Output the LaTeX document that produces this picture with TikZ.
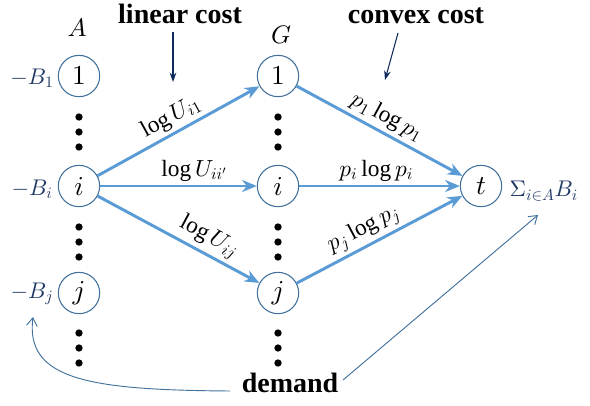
\documentclass[tikz,border=0pt]{standalone}
\usepackage{fontspec}
\setmainfont{Liberation Serif}
\usetikzlibrary{arrows.meta,shapes.geometric}
% let the Computer Modern math fonts scale to any size
\DeclareFontShape{OML}{cmm}{m}{it}{<->cmmi10}{}
\DeclareFontShape{OT1}{cmr}{m}{n}{<->cmr10}{}
\DeclareFontShape{OMS}{cmsy}{m}{n}{<->cmsy10}{}
\definecolor{edgeblue}{HTML}{5B9BD5}
\definecolor{ringblue}{HTML}{41719C}
\definecolor{navy}{HTML}{1F3864}
\definecolor{darknavy}{HTML}{0F2A5C}
\begin{document}
\begin{tikzpicture}[x=0.75pt,y=-0.75pt,
  vertex/.style={ellipse,draw=ringblue,line width=0.8pt,minimum width=31pt,minimum height=31pt,inner sep=0pt,font=\fontsize{20.5}{24}\selectfont},
  flow/.style={draw=edgeblue,line width=2.2pt,-{Stealth[length=11pt,width=9pt,inset=3.5pt]}},
  elabel/.style={font=\fontsize{17.5}{21}\selectfont,sloped,above,inner sep=2.5pt},
  demandlab/.style={text=navy,font=\fontsize{17}{20}\selectfont},
  colhead/.style={font=\fontsize{19}{22}\selectfont},
  note/.style={font=\fontsize{21}{24}\selectfont\bfseries},
  pointer/.style={draw=darknavy,line width=0.8pt,-{Stealth[length=7pt,width=5pt]}},
  thinarrow/.style={draw=ringblue,line width=0.7pt,-{Straight Barb[length=6pt,width=8pt]}},
  dot/.style={circle,fill=black,inner sep=0pt,minimum size=5.5pt}]
\useasboundingbox (0,0) rectangle (590,405);

% column headings and annotations
\node[colhead] (hA) at (77,28) {$A$};
\node[colhead] (hG) at (281,35) {$G$};
\node[note] (lin) at (180,14) {linear cost};
\node[note] (cvx) at (416,16) {convex cost};
\node[note] (dem) at (290,383) {demand};

% left column
\node[vertex] (a1) at (79,76) {$1$};
\node[vertex] (ai) at (79,186) {$i$};
\node[vertex] (aj) at (79,293) {$j$};
% middle column
\node[vertex] (g1) at (278,76) {$1$};
\node[vertex] (gi) at (278,186) {$i$};
\node[vertex] (gj) at (278,293) {$j$};
% sink
\node[vertex] (t) at (481,186) {$t$};

% supplies and demand
\node[demandlab] (b1) at (32,78) {$-B_1$};
\node[demandlab] (bi) at (32,189) {$-B_i$};
\node[demandlab] (bj) at (32,294) {$-B_j$};
\node[demandlab,anchor=west] (bs) at (505,191) {$\Sigma_{i\in A} B_i$};

% vertical ellipses
\foreach \x/\c in {79/a,278/g}{
  \foreach \y [count=\k] in {117,132,147}{\node[dot] (\c u\k) at (\x,\y) {};}
  \foreach \y [count=\k] in {227,242,257}{\node[dot] (\c m\k) at (\x,\y) {};}
  \foreach \y [count=\k] in {333,348,363}{\node[dot] (\c d\k) at (\x,\y) {};}
}

% flow edges
\draw[flow] (ai) -- node[elabel,pos=0.5] {$\log U_{i1}$} (g1);
\draw[flow] (ai) -- node[elabel,pos=0.6] {$\log U_{ii'}$} (gi);
\draw[flow] (ai) -- node[elabel,pos=0.64] {$\log U_{ij}$} (gj);
\draw[flow] (g1) -- node[elabel,pos=0.5] {$p_1\log p_1$} (t);
\draw[flow] (gi) -- node[elabel,pos=0.48] {$p_i\log p_i$} (t);
\draw[flow] (gj) -- node[elabel,pos=0.45] {$p_j\log p_j$} (t);

% annotation pointers
\coordinate (linend) at (173,82);
\coordinate (cvxend) at (385,80);
\draw[pointer] (173,32) -- (linend);
\draw[pointer] (398,33) -- (cvxend);
\coordinate (demL) at (230,391);
\coordinate (demR) at (343,380);
\coordinate (bjfoot) at (33,317);
\coordinate (sumfoot) at (538,215);
\draw[thinarrow] (demL) .. controls (90,390) and (25,380) .. (bjfoot);
\draw[thinarrow] (demR) -- (sumfoot);
\end{tikzpicture}
\end{document}
